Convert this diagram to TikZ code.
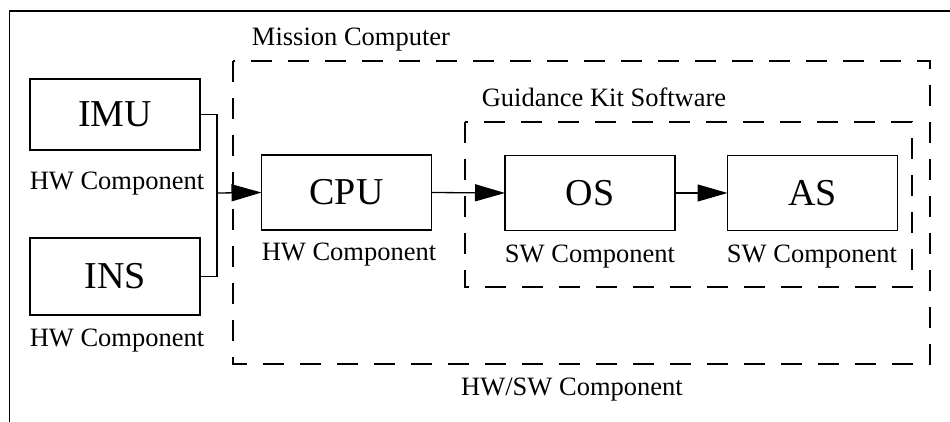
\documentclass[tikz,border=0pt]{standalone}
\usepackage{fontspec}
\setmainfont{Liberation Serif}
\usetikzlibrary{arrows.meta}
\begin{document}
\begin{tikzpicture}[x=1pt,y=-1pt,
  comp/.style={draw, line width=1.3pt, inner sep=0pt, outer sep=0pt,
    minimum width=170pt, minimum height=75pt, font=\fontsize{38}{42}\selectfont},
  lbl/.style={inner sep=0pt, font=\fontsize{26.5}{30}\selectfont},
  group/.style={draw, line width=1.3pt, dash pattern=on 21pt off 16pt},
  link/.style={line width=1.3pt, -{Triangle[length=30pt,width=17pt]}}]
\useasboundingbox (0,0) rectangle (950,422);
% clipped outer frame
\draw[line width=1.5pt] (9.5,422) -- (9.5,11) -- (950,11);
% group boundaries
\draw[group] (233,61) rectangle (930,364);
\node[lbl] (mclbl) at (351,40) {Mission Computer};
\node[lbl] (mcsub) at (572,390) {HW/SW Component};
\draw[group] (465,122) rectangle (912,287);
\node[lbl] (gklbl) at (604,97) {Guidance Kit Software};
% components
\node[comp, minimum height=71pt] (imu) at (115,114.5) {IMU};
\node[lbl] (imulbl) at (117,184) {HW Component};
\node[comp, minimum height=77pt] (ins) at (115,276.5) {INS};
\node[lbl] (inslbl) at (117,341) {HW Component};
\node[comp] (cpu) at (346.5,192.5) {CPU};
\node[lbl] (cpulbl) at (349,255) {HW Component};
\node[comp] (os) at (590,193) {OS};
\node[lbl] (oslbl) at (590,257) {SW Component};
\node[comp] (as) at (812.5,193) {AS};
\node[lbl] (aslbl) at (812,257) {SW Component};
% connectors
\coordinate (jn) at (217,193);
\draw[line width=1.3pt] (imu.east) -| (jn) |- (ins.east);
\draw[link] (jn) -- (cpu.west);
\draw[link] (cpu.east) -- (os.west);
\draw[link] (os.east) -- (as.west);
\end{tikzpicture}
\end{document}
